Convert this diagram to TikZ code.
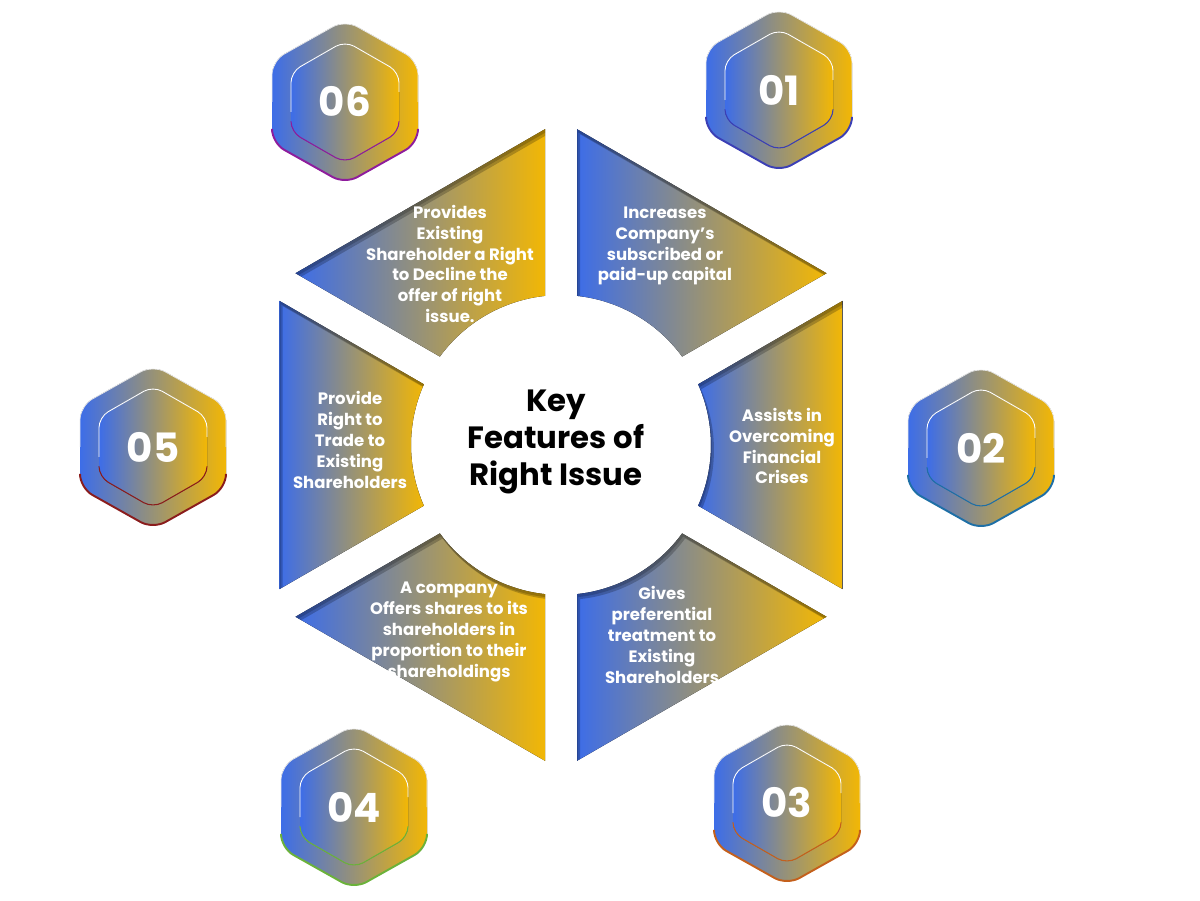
\documentclass[tikz,border=0pt]{standalone}
\usepackage{fontspec}
\setmainfont{Poppins}
\usepackage{tikz}
\usetikzlibrary{calc}
\definecolor{segblue}{HTML}{3D6DE8}
\definecolor{seggold}{HTML}{F2B705}
\definecolor{accone}{HTML}{3B3FB5}
\definecolor{acctwo}{HTML}{1E6FA6}
\definecolor{accthree}{HTML}{C4601C}
\definecolor{accfour}{HTML}{6BB23A}
\definecolor{accfive}{HTML}{8A1C1C}
\definecolor{accsix}{HTML}{8E1C9C}
% one ring piece between the spokes #2 and #3, round centre #1
\newcommand{\segpath}[3]{($(#1)+(#2:149.1)+(#2-90:16)$) -- ($(#1)+(#2:315.8)+(#2-90:16)$)
  -- ($(#1)+(#3:315.8)+(#3+90:16)$) -- ($(#1)+(#3:149.1)+(#3+90:16)$)
  arc[start angle=#3+6.12, end angle=#2-6.12, radius=150] -- cycle}

\begin{document}
\begin{tikzpicture}[x=0.02cm, y=0.02cm,
  seg/.style={left color=segblue, right color=seggold},
  badgefill/.style={left color=segblue, right color=seggold, rounded corners=8pt},
  segtext/.style={text=white, align=center, font=\bfseries\fontsize{9.4}{11.9}\selectfont},
  numtext/.style={text=white, font=\bfseries\fontsize{23}{23}\selectfont},
  keytitle/.style={text=black, align=center, font=\bfseries\fontsize{17.5}{21}\selectfont}]
  \useasboundingbox (0,0) rectangle (1200,900);
  \coordinate (C) at (561,455);
  \coordinate (Cs) at (564,450);
  \coordinate (Ct) at (562,452);
  % ring pieces, with a dark edge along their upper sides
  \foreach \a/\b in {90/30, 30/-30, -30/-90, -90/-150, -150/-210, -210/-270}{
    \fill[seg] \segpath{C}{\a}{\b};
    \begin{scope}
      \clip \segpath{C}{\a}{\b};
      \fill[black, opacity=0.22, even odd rule] (0,0) rectangle (1200,900) \segpath{Cs}{\a}{\b};
      \fill[black, opacity=0.18, even odd rule] (0,0) rectangle (1200,900) \segpath{Ct}{\a}{\b};
    \end{scope}
  }
  % texts of the pieces
  \node[segtext] (f01) at (665,654) {Increases\\Company’s\\subscribed or\\paid-up capital};
  \node[segtext] (f02) at (782,454) {Assists in\\Overcoming\\Financial\\Crises};
  \node[segtext] (f03) at (662,265) {Gives\\preferential\\treatment to\\Existing\\Shareholders};
  \node[segtext] (f04) at (449,268) {A company\\Offers shares to its\\shareholders in\\proportion to their\\shareholdings};
  \node[segtext] (f05) at (350,460) {Provide\\Right to\\Trade to\\Existing\\Shareholders};
  \node[segtext] (f06) at (450,636) {Provides\\Existing\\Shareholder a Right\\to Decline the\\offer of right\\issue.};
  \node[keytitle] (keyt) at (556,458) {Key\\Features of\\Right Issue};
  % numbered badges
  \foreach \x/\y/\n/\c in {779/810/01/accone, 981/452/02/acctwo, 787/97/03/accthree,
      354/93/04/accfour, 153/453/05/accfive, 345/798/06/accsix}{
    \begin{scope}[shift={(\x,\y)}]
      \fill[badgefill] (0,82) -- (73,41) -- (73,-41) -- (0,-82) -- (-73,-41) -- (-73,41) -- cycle;
      \draw[white!85!gray, line width=0.4pt, rounded corners=8pt] (-73,0) -- (-73,41) -- (0,82) -- (73,41) -- (73,0);
      \draw[\c, line width=1.1pt, rounded corners=8pt] (-73,-28) -- (-73,-41) -- (0,-82) -- (73,-41) -- (73,-28);
      \fill[badgefill, rounded corners=6pt] (0,61) -- (54,30) -- (54,-30) -- (0,-61) -- (-54,-30) -- (-54,30) -- cycle;
      \draw[white, line width=0.5pt, rounded corners=6pt] (54,10) -- (54,30) -- (0,61) -- (-54,30) -- (-54,-10);
      \draw[\c, line width=0.6pt, rounded corners=6pt] (-54,-20) -- (-54,-30) -- (0,-61) -- (54,-30) -- (54,-20);
      \node[numtext] (n\n) at (0,0) {\n};
    \end{scope}
  }
\end{tikzpicture}
\end{document}
